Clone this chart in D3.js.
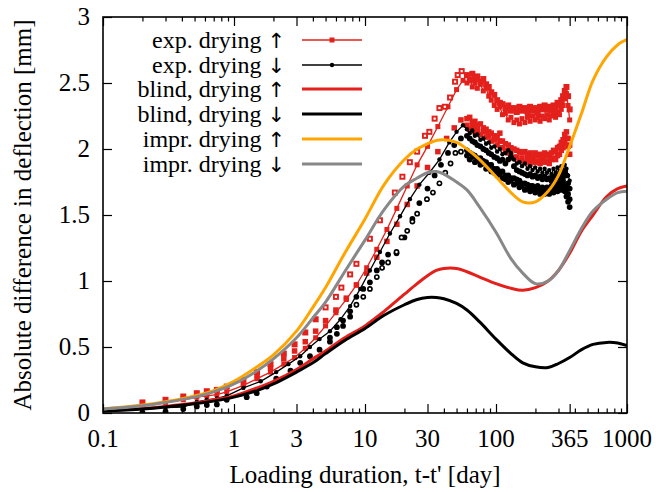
<!DOCTYPE html>
<html><head><meta charset="utf-8">
<script src="https://cdn.jsdelivr.net/npm/d3@7"></script>
<style>
html,body{margin:0;padding:0;background:#fff;}
svg{display:block;}
</style></head>
<body><svg id="c" width="656" height="492"></svg>
<script>
// ---------- data ----------
const xTickVals = [0.1, 1, 3, 10, 30, 100, 365, 1000];
const xTickLabels = ["0.1", "1", "3", "10", "30", "100", "365", "1000"];
const xMinorVals = [0.2,0.3,0.4,0.5,0.6,0.7,0.8,0.9,2,4,5,6,7,8,9,20,40,50,60,70,80,90,200,300,400,500,600,700,800,900];
const yTickVals = [0, 0.5, 1, 1.5, 2, 2.5, 3];
const yTickLabels = ["0", "0.5", "1", "1.5", "2", "2.5", "3"];

const legendNames = ["exp. drying", "exp. drying", "blind, drying", "blind, drying", "impr. drying", "impr. drying"];
const legendArrows = ["\u2191", "\u2193", "\u2191", "\u2193", "\u2191", "\u2193"];

// model curves
const tModel = [0.1,0.2,0.3,0.5,0.7,1,1.5,2,3,4,5,7,10,14,20,25,30,35,40,50,60,75,100,130,160,200,250,300,365,450,550,700,850,1000];
const blindUp   = [0.02,0.035,0.05,0.075,0.10,0.13,0.19,0.24,0.33,0.41,0.47,0.57,0.66,0.77,0.90,0.98,1.04,1.08,1.095,1.095,1.07,1.03,0.98,0.945,0.93,0.95,1.00,1.08,1.21,1.38,1.50,1.64,1.70,1.72];
const blindDown = [0.015,0.03,0.045,0.07,0.09,0.12,0.17,0.22,0.31,0.38,0.45,0.55,0.64,0.74,0.82,0.86,0.875,0.875,0.865,0.83,0.78,0.69,0.56,0.45,0.38,0.35,0.345,0.375,0.42,0.48,0.52,0.535,0.53,0.51];
const imprUp    = [0.03,0.06,0.085,0.13,0.17,0.24,0.35,0.44,0.62,0.80,0.95,1.21,1.47,1.73,1.92,2.00,2.04,2.065,2.07,2.05,2.00,1.92,1.79,1.67,1.60,1.60,1.68,1.80,2.02,2.27,2.52,2.70,2.79,2.83];
const imprDown  = [0.03,0.055,0.08,0.12,0.16,0.22,0.32,0.41,0.57,0.72,0.84,1.07,1.31,1.54,1.72,1.78,1.82,1.83,1.81,1.75,1.69,1.56,1.37,1.17,1.06,0.98,1.00,1.08,1.23,1.40,1.53,1.62,1.67,1.68];

// experimental: shared late-time sampling
const tLate = [60,63,66,69,72,76,80,84,88,92,97,102,107,112,118,124,130,137,144,151,158,166,174,182,190,199,208,217,226,235,245,255,265,275,285,295,305,315,325,335,345,355,365];
const redUpperA = [2.50,2.53,2.47,2.50,2.46,2.49,2.44,2.46,2.40,2.37,2.33,2.30,2.32,2.26,2.27,2.22,2.24,2.20,2.22,2.19,2.23,2.20,2.24,2.21,2.25,2.22,2.24,2.21,2.25,2.23,2.26,2.22,2.25,2.27,2.24,2.28,2.26,2.30,2.33,2.38,2.42,2.33,2.22];
const redUpperB = [2.56,2.52,2.57,2.53,2.55,2.51,2.53,2.49,2.47,2.43,2.41,2.37,2.35,2.34,2.31,2.33,2.29,2.31,2.28,2.32,2.29,2.31,2.28,2.32,2.29,2.31,2.28,2.32,2.30,2.33,2.30,2.32,2.29,2.33,2.31,2.35,2.33,2.37,2.40,2.44,2.47,2.40,2.30];
const redLowerA = [2.18,2.15,2.17,2.13,2.14,2.11,2.13,2.09,2.10,2.06,2.07,2.03,2.06,2.01,1.99,1.97,1.96,1.93,1.94,1.91,1.93,1.90,1.92,1.89,1.92,1.90,1.91,1.89,1.92,1.90,1.91,1.89,1.92,1.93,1.92,1.95,1.96,1.99,2.01,2.05,2.08,2.02,1.96];
const redLowerB = [2.23,2.24,2.20,2.21,2.18,2.19,2.16,2.15,2.13,2.12,2.10,2.09,2.12,2.06,2.04,2.03,2.01,2.00,1.99,1.98,1.97,1.98,1.96,1.97,1.95,1.97,1.95,1.96,1.95,1.97,1.95,1.96,1.97,1.99,1.98,2.01,2.02,2.05,2.07,2.11,2.13,2.08,2.03];
const blackUpperA = [2.15,2.12,2.14,2.10,2.11,2.07,2.08,2.04,2.05,2.01,2.02,1.98,2.00,1.96,1.97,1.99,1.97,1.92,1.89,1.90,1.87,1.89,1.85,1.87,1.84,1.86,1.83,1.85,1.82,1.85,1.82,1.84,1.81,1.85,1.82,1.86,1.83,1.87,1.84,1.88,1.85,1.80,1.76];
const blackUpperB = [2.10,2.08,2.06,2.05,2.03,2.02,2.00,1.99,1.97,1.96,1.94,1.93,1.91,1.92,1.89,1.92,1.94,1.87,1.84,1.83,1.82,1.81,1.80,1.81,1.79,1.80,1.78,1.79,1.77,1.79,1.77,1.78,1.76,1.79,1.77,1.80,1.78,1.81,1.79,1.83,1.80,1.74,1.70];
const blackLowerA = [1.95,1.92,1.94,1.90,1.91,1.88,1.89,1.85,1.86,1.83,1.82,1.80,1.81,1.78,1.77,1.75,1.76,1.73,1.74,1.71,1.72,1.69,1.70,1.68,1.69,1.67,1.69,1.66,1.68,1.66,1.68,1.66,1.69,1.67,1.70,1.68,1.71,1.69,1.72,1.68,1.64,1.60,1.56];
const blackLowerB = [1.99,1.97,1.96,1.95,1.93,1.93,1.91,1.90,1.88,1.88,1.85,1.85,1.83,1.83,1.80,1.80,1.78,1.78,1.77,1.76,1.74,1.74,1.73,1.72,1.72,1.71,1.72,1.70,1.71,1.70,1.71,1.70,1.72,1.71,1.73,1.72,1.74,1.73,1.76,1.73,1.70,1.66,1.62];

// early parts
const e1T = [0.2,0.3,0.41,0.52,0.62,0.74,0.88,1.18,1.5,1.9,2.4,2.9,3.5,4.2,5,6,7.2,8.6,10.3,12.3,14.7,17.5,21,25,30,36,43,50,56];
const e1V = [0.055,0.08,0.10,0.12,0.13,0.14,0.16,0.21,0.26,0.31,0.37,0.42,0.49,0.57,0.66,0.76,0.86,0.97,1.10,1.24,1.39,1.55,1.72,1.88,2.02,2.17,2.32,2.45,2.52];
const e2T = [0.2,0.3,0.41,0.52,0.62,0.74,0.88,1.18,1.5,1.9,2.4,2.9,3.5,4.2,5,6,6.6,7.7,8.6,10.9,13,16.9,19.3,22,25,28.7,31,34,37,40.7,44.6,48.7,51,54.7];
const e2V = [0.08,0.10,0.125,0.15,0.165,0.175,0.20,0.25,0.31,0.37,0.45,0.52,0.61,0.71,0.80,0.88,0.95,1.05,1.13,1.32,1.46,1.67,1.79,1.90,1.98,2.10,2.13,2.23,2.31,2.32,2.39,2.51,2.56,2.59];
const e3T = [1.18,1.5,1.9,2.4,2.9,3.5,4.2,5,6,7.2,8.6,10.3,12.3,14.7,17.5,21,25,30,36,42,48,54];
const e3V = [0.22,0.28,0.34,0.41,0.47,0.54,0.62,0.70,0.78,0.87,0.97,1.06,1.18,1.30,1.43,1.58,1.72,1.86,1.98,2.08,2.16,2.22];
const d1T = [0.3,0.41,0.52,0.62,0.74,0.88,1.18,1.6,2.1,2.6,3.2,3.8,4.5,5.4,6.5,7.7,9.2,10.9,13,15.5,18.5,22,26,31,37,44,50,56];
const d1V = [0.04,0.045,0.085,0.10,0.11,0.13,0.19,0.24,0.31,0.37,0.43,0.50,0.56,0.62,0.71,0.81,0.94,1.08,1.22,1.36,1.49,1.62,1.73,1.82,1.92,2.05,2.13,2.18];
const d2T = [0.2,0.3,0.41,0.52,0.62,0.74,0.88,1.25,1.49,1.78,2.1,2.7,3.2,3.8,4.5,5.4,6.1,6.8,7.7,8.6,9.7,10.9,12.3,13.5,15,17.4,19,21,23,25,29.7,33,37,41,45,49,54];
const d2V = [0.005,0.012,0.03,0.05,0.06,0.065,0.10,0.12,0.15,0.20,0.26,0.32,0.38,0.43,0.48,0.54,0.60,0.66,0.73,0.82,0.88,0.94,1.03,1.10,1.14,1.22,1.33,1.38,1.45,1.51,1.62,1.67,1.74,1.82,1.89,1.97,1.98];
const d3T = [5.4,6.1,6.8,7.7,8.6,9.7,10.9,12.3,13.5,15,17.4,20,23,26,30,34,38,43,48,54];
const d3V = [0.57,0.65,0.70,0.77,0.88,0.94,0.99,1.08,1.14,1.20,1.21,1.33,1.47,1.59,1.70,1.80,1.88,1.97,2.03,2.08];

// ---------- drawing ----------
const RED = "#e3201b", ORANGE = "#ffa500", GRAY = "#888888", BLACK = "#000000";
const L = 103, R = 627, T = 17, B = 413;
const FS = 25;
const FONT = '"Liberation Serif", "Times New Roman", Times';
const svg = d3.select("#c");
const x = d3.scaleLog().domain([0.1, 1000]).range([L, R]);
const y = d3.scaleLinear().domain([0, 3]).range([B, T]);

function txt(sel, fs){ return sel.style("font-family", FONT).style("font-size", (fs || FS) + "px").attr("fill", "#000"); }

svg.append("defs").append("clipPath").attr("id","clip")
  .append("rect").attr("x", L).attr("y", T).attr("width", R-L).attr("height", B-T);

const zip = (ts, vs) => ts.map((t, i) => [t, vs[i]]);
const plot = svg.append("g").attr("clip-path", "url(#clip)");
const line = d3.line().x(d => x(d[0])).y(d => y(d[1]));

function squares(data, size, hollowTest){
  const g = plot.append("g");
  g.selectAll("rect.o").data(data).join("rect").attr("class","o")
    .attr("x", d => x(d[0]) - size/2).attr("y", d => y(d[1]) - size/2)
    .attr("width", size).attr("height", size).attr("fill", RED);
  g.selectAll("rect.h").data(data.filter(hollowTest)).join("rect").attr("class","h")
    .attr("x", d => x(d[0]) - 1.1).attr("y", d => y(d[1]) - 1.1)
    .attr("width", 2.2).attr("height", 2.2).attr("fill", "#fff");
}
function dots(data, r, hollowTest){
  const g = plot.append("g");
  g.selectAll("circle.o").data(data).join("circle").attr("class","o")
    .attr("cx", d => x(d[0])).attr("cy", d => y(d[1])).attr("r", r).attr("fill", BLACK);
  g.selectAll("circle.h").data(data.filter(hollowTest)).join("circle").attr("class","h")
    .attr("cx", d => x(d[0])).attr("cy", d => y(d[1])).attr("r", 1.2).attr("fill", "#fff");
}
const never = () => false;

// exp drying up (red)
const s1 = zip(e1T.concat(tLate), e1V.concat(redUpperA));
const s2 = zip(e2T.concat(tLate), e2V.concat(redUpperB));
const s3 = zip(e3T.concat(tLate), e3V.concat(redLowerA));
const s3b = zip(tLate, redLowerB);
plot.append("path").datum(s1).attr("d", line).attr("fill","none").attr("stroke",RED).attr("stroke-width",1.3);
squares(s3, 5.5, never);
squares(s3b, 5.5, never);
squares(s1, 5, never);
squares(s2, 6, d => d[0] >= 5 && d[0] <= 56);

// exp drying down (black)
const k1 = zip(d1T.concat(tLate), d1V.concat(blackUpperA));
const k3 = zip(d3T.concat(tLate), d3V.concat(blackUpperB));
const k2 = zip(d2T.concat(tLate), d2V.concat(blackLowerA));
const k2b = zip(tLate, blackLowerB);
plot.append("path").datum(k1).attr("d", line).attr("fill","none").attr("stroke",BLACK).attr("stroke-width",1.3);
dots(k3, 2.9, never);
dots(k2b, 2.9, never);
dots(k2, 2.9, d => d[0] >= 8 && d[0] <= 56);
dots(k1, 2.2, never);

// model curves
const mline = d3.line().x(d => x(d[0])).y(d => y(d[1])).curve(d3.curveCatmullRom.alpha(0.5));
const models = [[blindUp, RED], [blindDown, BLACK], [imprUp, ORANGE], [imprDown, GRAY]];
models.forEach(([vals, col]) => {
  plot.append("path").datum(zip(tModel, vals)).attr("d", mline)
    .attr("fill","none").attr("stroke", col).attr("stroke-width", 3).attr("stroke-linejoin","round");
});

// ---------- axes ----------
const ax = svg.append("g");
function styleAxis(g){ g.select(".domain").remove(); g.selectAll("line").attr("stroke","#000").attr("stroke-width",1.2); }
ax.append("g").attr("transform", `translate(0,${B})`)
  .call(d3.axisBottom(x).tickValues(xTickVals).tickSize(-9).tickFormat("")).call(styleAxis);
ax.append("g").attr("transform", `translate(0,${B})`)
  .call(d3.axisBottom(x).tickValues(xMinorVals).tickSize(-4.5).tickFormat("")).call(styleAxis);
ax.append("g").attr("transform", `translate(0,${T})`)
  .call(d3.axisTop(x).tickValues(xTickVals).tickSize(-9).tickFormat("")).call(styleAxis);
ax.append("g").attr("transform", `translate(0,${T})`)
  .call(d3.axisTop(x).tickValues(xMinorVals).tickSize(-4.5).tickFormat("")).call(styleAxis);
ax.append("g").attr("transform", `translate(${L},0)`)
  .call(d3.axisLeft(y).tickValues(yTickVals).tickSize(-9).tickFormat("")).call(styleAxis);
ax.append("g").attr("transform", `translate(${R},0)`)
  .call(d3.axisRight(y).tickValues(yTickVals).tickSize(-9).tickFormat("")).call(styleAxis);

svg.append("rect").attr("x", L).attr("y", T).attr("width", R-L).attr("height", B-T)
  .attr("fill","none").attr("stroke","#000").attr("stroke-width",1.6);

// tick labels
svg.append("g").selectAll("text").data(xTickVals).join("text")
  .attr("x", d => x(d)).attr("y", 447).attr("text-anchor","middle")
  .call(txt).text((d,i) => xTickLabels[i]);
svg.append("g").selectAll("text").data(yTickVals).join("text")
  .attr("x", 90).attr("y", d => y(d) + 8).attr("text-anchor","end")
  .call(txt).text((d,i) => yTickLabels[i]);

// axis titles
svg.append("text").attr("x", (L+R)/2).attr("y", 483).attr("text-anchor","middle")
  .call(txt).text("Loading duration, t-t' [day]");
svg.append("text").attr("transform", `translate(31,${(T+B)/2}) rotate(-90)`)
  .attr("text-anchor","middle").call(txt)
  .text("Absolute difference in deflection [mm]");

// ---------- legend ----------
const legY = [40, 65, 89, 114, 139, 164];
const lg = svg.append("g");
legendNames.forEach((lab, i) => {
  const t = lg.append("text").attr("x", 285).attr("y", legY[i] + 7.5).attr("text-anchor","end")
    .call(txt, 24);
  t.append("tspan").text(lab + " ");
  t.append("tspan").style("font-family", '"DejaVu Sans"').style("font-size", "21px").text(legendArrows[i]);
});
const legStyles = [[RED,1.3],[BLACK,1.3],[RED,3],[BLACK,3],[ORANGE,3],[GRAY,3]];
legStyles.forEach(([col, w], i) => {
  lg.append("line").attr("x1", 302).attr("x2", 362).attr("y1", legY[i]).attr("y2", legY[i])
    .attr("stroke", col).attr("stroke-width", w);
});
lg.append("rect").attr("x", 332-2.5).attr("y", legY[0]-2.5).attr("width",5).attr("height",5).attr("fill",RED);
lg.append("circle").attr("cx", 332).attr("cy", legY[1]).attr("r", 2.2).attr("fill",BLACK);
</script></body></html>
